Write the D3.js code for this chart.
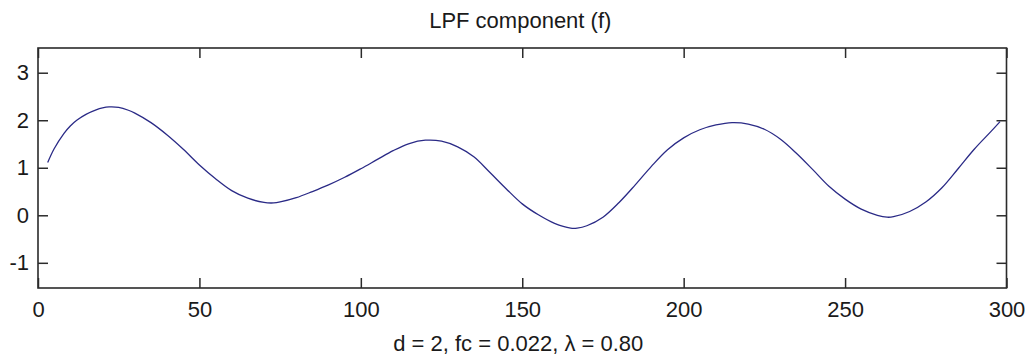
<!DOCTYPE html>
<html>
<head>
<meta charset="utf-8">
<script src="https://cdn.jsdelivr.net/npm/d3@7"></script>
<style>
  html, body { margin: 0; padding: 0; background: #fff; }
  svg text { font-family: "Liberation Sans", Arial, Helvetica, sans-serif; fill: #1a1a1a; }
</style>
</head>
<body>
<svg id="chart" width="1035" height="361"></svg>
<script>
// Sample index of the low-pass filtered component
const sampleX = [3, 5, 8, 10, 12, 15, 18, 20, 22, 25, 28, 30, 35, 40, 45, 50, 55, 60, 65, 70,
  73, 75, 80, 85, 90, 95, 100, 105, 110, 115, 120, 125, 130, 135, 140, 145, 150, 155, 160, 165,
  167, 170, 175, 180, 185, 190, 195, 200, 205, 210, 215, 220, 225, 230, 235, 240, 245, 250, 255, 260,
  263, 265, 270, 275, 280, 285, 290, 295, 298];
// Filtered signal value at each sample
const lpfValues = [1.11, 1.40, 1.72, 1.88, 2.00, 2.13, 2.22, 2.26, 2.28, 2.27, 2.21, 2.15, 1.95, 1.69, 1.39, 1.06, 0.77, 0.52, 0.36, 0.27,
  0.26, 0.28, 0.37, 0.50, 0.64, 0.80, 0.98, 1.17, 1.36, 1.51, 1.58, 1.56, 1.44, 1.23, 0.90, 0.56, 0.24, 0.01, -0.17, -0.27,
  -0.27, -0.22, -0.04, 0.27, 0.64, 1.03, 1.38, 1.63, 1.80, 1.90, 1.95, 1.92, 1.81, 1.60, 1.30, 0.96, 0.61, 0.34, 0.13, 0.00,
  -0.04, -0.03, 0.08, 0.28, 0.58, 0.98, 1.39, 1.75, 1.97];

const xTicks = [0, 50, 100, 150, 200, 250, 300];
const yTicks = [-1, 0, 1, 2, 3];
const titleText = "LPF component (f)";
const xLabelText = "d = 2, fc = 0.022, \u03bb = 0.80";

const svg = d3.select("#chart");
const plotLeft = 38, plotRight = 1006.5, plotTop = 48, plotBottom = 288;

const x = d3.scaleLinear().domain([0, 300]).range([plotLeft, plotRight]);
const y = d3.scaleLinear().domain([-1.53, 3.52]).range([plotBottom, plotTop]);

const tickLen = 10;
const axisColor = "#2b2b2b";
const fontSize = 22;

// Bottom axis with labels, ticks pointing into the plot
svg.append("g")
  .attr("transform", `translate(0,${plotBottom})`)
  .call(d3.axisBottom(x).tickValues(xTicks).tickSizeInner(-tickLen).tickSizeOuter(0).tickPadding(13))
  .call(g => g.select(".domain").remove())
  .call(g => g.selectAll("line").attr("stroke", axisColor).attr("stroke-width", 1.5))
  .call(g => g.selectAll("text").attr("font-size", fontSize).attr("fill", "#1a1a1a")
      .attr("font-family", "'Liberation Sans', Arial, sans-serif"));

// Top axis: ticks only
svg.append("g")
  .attr("transform", `translate(0,${plotTop})`)
  .call(d3.axisTop(x).tickValues(xTicks).tickSizeInner(-tickLen).tickSizeOuter(0).tickFormat(""))
  .call(g => g.select(".domain").remove())
  .call(g => g.selectAll("line").attr("stroke", axisColor).attr("stroke-width", 1.5));

// Left axis with labels (plain hyphen for negatives)
svg.append("g")
  .attr("transform", `translate(${plotLeft},0)`)
  .call(d3.axisLeft(y).tickValues(yTicks).tickSizeInner(-tickLen).tickSizeOuter(0).tickPadding(9).tickFormat(d => String(d)))
  .call(g => g.select(".domain").remove())
  .call(g => g.selectAll("line").attr("stroke", axisColor).attr("stroke-width", 1.5))
  .call(g => g.selectAll("text").attr("font-size", fontSize).attr("fill", "#1a1a1a")
      .attr("font-family", "'Liberation Sans', Arial, sans-serif"));

// Right axis: ticks only
svg.append("g")
  .attr("transform", `translate(${plotRight},0)`)
  .call(d3.axisRight(y).tickValues(yTicks).tickSizeInner(-tickLen).tickSizeOuter(0).tickFormat(""))
  .call(g => g.select(".domain").remove())
  .call(g => g.selectAll("line").attr("stroke", axisColor).attr("stroke-width", 1.5));

// Plot frame
svg.append("rect")
  .attr("x", plotLeft).attr("y", plotTop)
  .attr("width", plotRight - plotLeft).attr("height", plotBottom - plotTop)
  .attr("fill", "none").attr("stroke", axisColor).attr("stroke-width", 1.6);

// Filtered signal
const line = d3.line()
  .x((d, i) => x(sampleX[i]))
  .y(d => y(d))
  .curve(d3.curveCatmullRom.alpha(0.5));

svg.append("path")
  .datum(lpfValues)
  .attr("d", line)
  .attr("fill", "none")
  .attr("stroke", "#2a2a86")
  .attr("stroke-width", 1.3);

// Title and x-axis caption
svg.append("text")
  .attr("x", (plotLeft + plotRight) / 2 - 2).attr("y", 28)
  .attr("text-anchor", "middle")
  .attr("font-size", fontSize)
  .text(titleText);

svg.append("text")
  .attr("x", (plotLeft + plotRight) / 2 - 4).attr("y", 351)
  .attr("text-anchor", "middle")
  .attr("font-size", fontSize)
  .text(xLabelText);
</script>
</body>
</html>
